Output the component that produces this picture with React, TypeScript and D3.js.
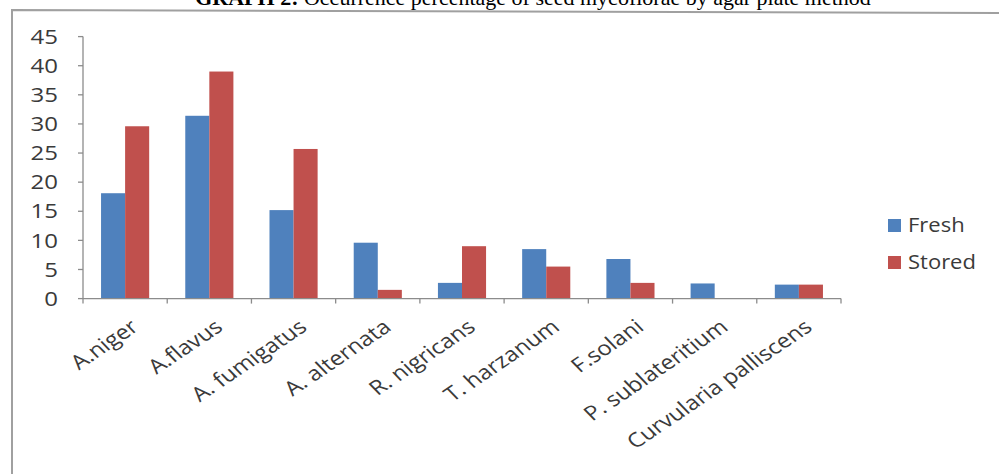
import React from "react";
import * as d3 from "d3";

const categories = [
  "A.niger",
  "A.flavus",
  "A. fumigatus",
  "A. alternata",
  "R. nigricans",
  "T. harzanum",
  "F.solani",
  "P. sublateritium",
  "Curvularia palliscens",
];
const fresh = [18.1, 31.4, 15.2, 9.6, 2.7, 8.5, 6.8, 2.6, 2.4];
const stored = [29.6, 39.0, 25.7, 1.5, 9.0, 5.5, 2.7, 0, 2.4];
const seriesNames = ["Fresh", "Stored"];
const yTicks = [0, 5, 10, 15, 20, 25, 30, 35, 40, 45];
const titleBold = "GRAPH 2:";
const titleRest = " Occurrence percentage of seed mycoflorae by agar plate method";

const W = 999;
const H = 474;
const colors = ["#4f81bd", "#c0504d"];
const axisColor = "#8c8c8c";
const textColor = "#3a3a3a";
const font = "'Open Sans', 'Liberation Sans', sans-serif";

export default function App() {
  const x0 = d3.scaleBand<string>().domain(categories).range([83, 841]).paddingInner(0).paddingOuter(0);
  const y = d3.scaleLinear().domain([0, 45]).range([298.6, 36.6]);
  const bw = x0.bandwidth() / 3.5; // gap width 150%
  const series = [fresh, stored];

  return (
    <svg width={W} height={H} style={{ position: "absolute", left: 0, top: 0, background: "#fff" }}>
      <rect x={0} y={0} width={W} height={H} fill="#fff" />
      {/* title */}
      <text x={533} y={5} textAnchor="middle" fontFamily="'Liberation Serif', 'Times New Roman', serif" fontSize={22} fill="#000">
        <tspan fontWeight="bold">{titleBold}</tspan>
        <tspan>{titleRest}</tspan>
      </text>
      {/* frame */}
      <path d={`M12,${H + 10} L12,10 L${W + 5},13`} fill="none" stroke="#a0a0a0" strokeWidth={2} />

      {/* bars */}
      {series.map((vals, si) =>
        vals.map((v, i) => {
          const cx = (x0(categories[i]) as number) + x0.bandwidth() / 2;
          const xb = cx - bw + si * bw;
          return (
            <rect key={`${si}-${i}`} x={xb} y={y(v)} width={bw} height={y(0) - y(v)} fill={colors[si]} />
          );
        })
      )}

      {/* y axis */}
      <line x1={83} x2={83} y1={y(45)} y2={y(0)} stroke={axisColor} strokeWidth={1.3} />
      {yTicks.map((t) => (
        <g key={t}>
          <line x1={78} x2={83} y1={y(t)} y2={y(t)} stroke={axisColor} strokeWidth={1.3} />
          <text
            transform={`translate(58,${y(t)}) scale(1.2,1)`}
            textAnchor="end"
            dy="0.36em"
            fontFamily={font}
            fontSize={20}
            fill={textColor}
          >
            {t}
          </text>
        </g>
      ))}

      {/* x axis */}
      <line x1={83} x2={841} y1={y(0)} y2={y(0)} stroke={axisColor} strokeWidth={1.3} />
      {categories.concat(["end"]).map((c, i) => {
        const xt = 83 + i * x0.bandwidth();
        return <line key={`t${i}`} x1={xt} x2={xt} y1={y(0)} y2={y(0) + 5} stroke={axisColor} strokeWidth={1.3} />;
      })}
      {categories.map((c) => {
        const cx = (x0(c) as number) + x0.bandwidth() / 2;
        return (
          <text
            key={c}
            transform={`translate(${cx + 4},318) scale(1.2,1) rotate(-39)`}
            textAnchor="end"
            dy="0.72em"
            fontFamily={font}
            fontSize={20}
            fill={textColor}
          >
            {c}
          </text>
        );
      })}

      {/* legend */}
      {seriesNames.map((s, i) => (
        <g key={s}>
          <rect x={888} y={219 + i * 37} width={13} height={13} fill={colors[i]} />
          <text
            transform={`translate(908,${232 + i * 37}) scale(1.1,1)`}
            fontFamily={font}
            fontSize={20}
            fill={textColor}
          >
            {s}
          </text>
        </g>
      ))}
    </svg>
  );
}
